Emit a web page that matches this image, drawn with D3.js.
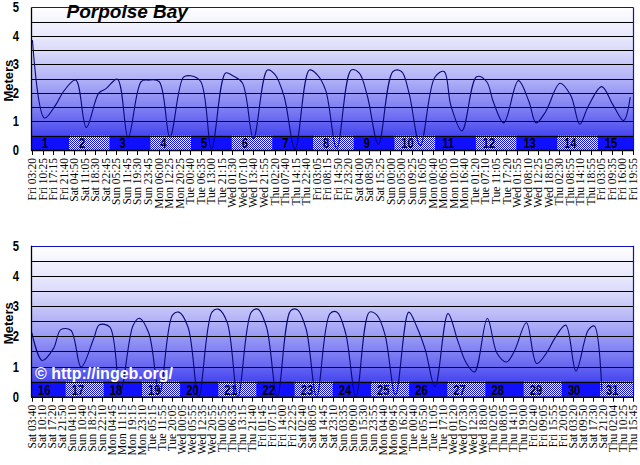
<!DOCTYPE html>
<html><head><meta charset="utf-8">
<script src="https://cdn.jsdelivr.net/npm/d3@7"></script>
<style>html,body{margin:0;padding:0;background:#fff;} svg{display:block;}</style>
</head><body><svg id="c" width="640" height="465"></svg>
<script>
// ---------- DATA ----------
const title = "Porpoise Bay";
const yTicks = [0, 1, 2, 3, 4, 5];
const gridValues = [0.5, 1, 1.5, 2, 2.5, 3, 3.5, 4, 4.5];

// Panel 1 : days 1-15
const topDays = [1, 15];
const topWeekday = ["Fri","Fri","Fri","Fri","Sat","Sat","Sat","Sat","Sun","Sun","Sun","Sun","Mon","Mon","Mon","Tue","Tue","Tue","Tue","Wed","Wed","Wed","Wed","Thu","Thu","Thu","Thu","Fri","Fri","Fri","Fri","Sat","Sat","Sat","Sun","Sun","Sun","Sun","Mon","Mon","Mon","Mon","Tue","Tue","Tue","Tue","Wed","Wed","Wed","Wed","Thu","Thu","Thu","Thu","Fri","Fri","Fri","Fri"];
const topTime = ["03:20","10:25","17:15","21:40","04:50","11:05","18:30","22:45","05:25","11:45","19:30","23:45","06:00","12:25","20:25","00:40","06:35","13:00","21:15","01:30","07:10","13:40","21:55","02:20","07:40","14:15","22:40","03:05","08:15","14:50","23:20","04:00","08:50","15:25","00:00","05:00","09:25","16:05","00:40","06:05","10:10","16:40","01:20","07:10","11:05","17:20","01:55","08:10","12:25","18:05","02:30","08:55","14:10","18:55","03:05","09:35","16:00","19:55"];
const topDate = [1,1,1,1,2,2,2,2,3,3,3,3,4,4,4,5,5,5,5,6,6,6,6,7,7,7,7,8,8,8,8,9,9,9,10,10,10,10,11,11,11,11,12,12,12,12,13,13,13,13,14,14,14,14,15,15,15,15];
const topHeight = [3.85,1.12,1.6,2.05,2.45,0.79,2.0,2.15,2.48,0.43,2.4,2.45,2.4,0.45,2.55,2.6,2.4,0.05,2.7,2.6,2.35,0.4,2.8,2.65,1.9,0.03,2.8,2.65,2.1,0.05,2.8,2.7,1.9,0.2,2.75,2.75,2.0,0.15,2.55,2.75,1.55,0.67,2.57,2.4,1.7,0.95,2.43,1.7,0.95,1.35,2.34,1.9,0.9,1.5,2.22,1.6,1.03,1.85];

// Panel 2 : days 16-31
const bottomDays = [16, 31];
const bottomWeekday = ["Sat","Sat","Sat","Sat","Sun","Sun","Sun","Sun","Mon","Mon","Mon","Mon","Tue","Tue","Tue","Wed","Wed","Wed","Wed","Thu","Thu","Thu","Thu","Fri","Fri","Fri","Fri","Sat","Sat","Sat","Sat","Sun","Sun","Sun","Sun","Mon","Mon","Mon","Tue","Tue","Tue","Tue","Wed","Wed","Wed","Wed","Thu","Thu","Thu","Thu","Fri","Fri","Fri","Fri","Sat","Sat","Sat","Sat","Thu","Thu","Thu"];
const bottomTime = ["03:40","10:10","17:20","21:50","04:10","10:40","18:25","22:10","04:45","11:15","19:15","23:10","05:15","11:55","20:05","00:05","05:55","12:35","20:55","00:55","06:35","13:15","21:40","01:45","07:15","14:00","22:25","02:40","08:05","14:45","23:10","03:35","09:00","15:30","23:55","04:40","09:45","16:20","00:40","05:50","11:05","17:10","01:20","07:30","12:30","18:00","02:05","08:05","14:10","19:00","02:40","09:05","15:55","20:05","03:20","09:50","17:30","21:20","02:04","10:25","15:45"];
const bottomDate = [16,16,16,16,17,17,17,17,18,18,18,18,19,19,19,20,20,20,20,21,21,21,21,22,22,22,22,23,23,23,23,24,24,24,24,25,25,25,26,26,26,26,27,27,27,27,28,28,28,28,29,29,29,29,30,30,30,30,31,31,31];
const bottomHeight = [2.12,1.2,1.6,2.22,2.2,0.98,1.9,2.38,2.3,0.15,2.35,2.6,2.1,0.1,2.7,2.8,2.3,0.0,2.8,2.9,2.45,0.0,2.8,2.9,2.3,0.0,2.85,2.88,2.25,0.0,2.75,2.8,2.1,0.0,2.8,2.7,2.05,0.05,2.8,2.3,1.55,0.33,2.75,1.85,1.15,0.82,2.6,1.45,1.15,1.5,2.45,1.1,1.5,1.9,2.37,0.85,2.2,2.34,0.2,null,null];

const watermark = "\u00a9 http://ingeb.org/";

// ---------- DRAWING ----------
const svg = d3.select("#c");
const defs = svg.append("defs");
const grad = defs.append("linearGradient").attr("id","bg").attr("x1",0).attr("y1",0).attr("x2",0).attr("y2",1);
[[0,"#ffffff"],[0.3,"#dcdcfb"],[0.5,"#b2b2f7"],[0.75,"#7474f2"],[0.9,"#4646f0"],[1,"#2020f2"]]
  .forEach(s => grad.append("stop").attr("offset",s[0]).attr("stop-color",s[1]));
const pat = defs.append("pattern").attr("id","chk").attr("width",2).attr("height",2).attr("patternUnits","userSpaceOnUse");
pat.append("rect").attr("width",2).attr("height",2).attr("fill","#ffffff");
pat.append("rect").attr("x",0).attr("y",0).attr("width",1).attr("height",1).attr("fill","#1010ff");
pat.append("rect").attr("x",1).attr("y",1).attr("width",1).attr("height",1).attr("fill","#1010ff");

function toT(date, time) {
  const [h, m] = time.split(":").map(Number);
  return date + h / 24 + m / 1440;
}

function drawPanel(cfg, idx) {
  const left = 32, right = 633;
  const g = svg.append("g");
  const y = d3.scaleLinear().domain([0, 5]).range([cfg.bottom, cfg.top]);
  const nd = cfg.days[1] - cfg.days[0] + 1;
  const x = d3.scaleLinear().domain([cfg.days[0], cfg.days[0] + nd + 1]).range([cfg.x0, cfg.x0 + (nd + 1) * cfg.dayW]);
  const xl = d3.scalePoint().domain(d3.range(cfg.weekday.length)).range([left, right]);

  // background gradient
  g.append("rect").attr("x", left).attr("y", cfg.top).attr("width", right - left).attr("height", cfg.bottom - cfg.top).attr("fill", "url(#bg)");

  // day bands
  const days = d3.range(cfg.days[0], cfg.days[1] + 1);
  const bandX0 = d => Math.max(x(d), left), bandX1 = d => Math.min(x(d + 1), right);
  g.selectAll(".band").data(days).join("rect")
    .attr("x", d => bandX0(d)).attr("width", d => bandX1(d) - bandX0(d))
    .attr("y", y(0.5)).attr("height", y(0) - y(0.5))
    .attr("fill", (d, i) => i % 2 ? "url(#chk)" : "#1010ff");

  // grid lines
  g.selectAll(".grid").data(gridValues).join("line")
    .attr("x1", left).attr("x2", right)
    .attr("y1", d => Math.round(y(d)) + 0.5).attr("y2", d => Math.round(y(d)) + 0.5)
    .attr("stroke", "#000").attr("stroke-width", 1);

  // curve
  const clipId = "clip" + idx;
  defs.append("clipPath").attr("id", clipId).append("rect")
    .attr("x", left).attr("y", cfg.top).attr("width", right - left).attr("height", cfg.bottom - cfg.top);
  const pts = cfg.height.map((h, i) => ({ t: toT(cfg.date[i], cfg.time[i]), h }));
  const line = d3.line().defined(d => d.h != null).x(d => x(d.t) - 1.5).y(d => y(d.h)).curve(d3.curveCatmullRom.alpha(0.5));
  g.append("path").attr("d", line(pts)).attr("fill", "none").attr("stroke", "#0a0a78").attr("stroke-width", 1.1).attr("clip-path", `url(#${clipId})`);

  // day numbers
  g.selectAll(".dnum").data(days).join("text")
    .attr("transform", d => `translate(${Math.max(x(d), left) + 0.32 * cfg.dayW},${y(0) - 2}) scale(0.8,1)`)
    .attr("text-anchor", "middle").attr("font-family", "Liberation Sans, Arial, sans-serif")
    .attr("font-weight", "bold").attr("font-size", 14).attr("fill", "#000").text(d => d);

  // frame
  g.append("line").attr("x1", left).attr("x2", right).attr("y1", Math.round(cfg.top) + 0.5).attr("y2", Math.round(cfg.top) + 0.5).attr("stroke", "#1010c8").attr("stroke-width", 1.2);
  g.append("line").attr("x1", right + 0.5).attr("x2", right + 0.5).attr("y1", cfg.top).attr("y2", cfg.bottom).attr("stroke", "#1010c8").attr("stroke-width", 1.2);
  g.append("line").attr("x1", left - 0.5).attr("x2", left - 0.5).attr("y1", cfg.top).attr("y2", cfg.bottom + 0.5).attr("stroke", "#000").attr("stroke-width", 1.3);
  g.append("line").attr("x1", left - 1).attr("x2", right + 1).attr("y1", cfg.bottom + 0.5).attr("y2", cfg.bottom + 0.5).attr("stroke", "#000").attr("stroke-width", 1.6);

  // x ticks and labels
  const lab = cfg.weekday.map((w, i) => w + " " + cfg.time[i]);
  g.selectAll(".xt").data(lab).join("line")
    .attr("x1", (d, i) => Math.round(xl(i)) + 0.5).attr("x2", (d, i) => Math.round(xl(i)) + 0.5)
    .attr("y1", cfg.bottom).attr("y2", cfg.bottom + 5).attr("stroke", "#000");
  g.selectAll(".xl").data(lab).join("text")
    .attr("transform", (d, i) => `translate(${xl(i)},${cfg.bottom + 8}) rotate(-90)`)
    .attr("dy", "0.35em").attr("text-anchor", "end")
    .attr("font-family", "Liberation Serif, Times New Roman, serif").attr("font-size", 11.5).attr("fill", "#000")
    .text(d => d);

  // y labels
  g.selectAll(".yl").data(yTicks).join("text")
    .attr("transform", d => `translate(19,${y(d) + 5}) scale(0.8,1)`)
    .attr("text-anchor", "end").attr("font-family", "Liberation Sans, Arial, sans-serif")
    .attr("font-weight", "bold").attr("font-size", 14).attr("fill", "#000").text(d => d);
  g.append("text").attr("transform", `translate(12.5,${(cfg.top + cfg.bottom) / 2 + 2}) rotate(-90)`)
    .attr("text-anchor", "middle").attr("font-family", "Liberation Sans, Arial, sans-serif")
    .attr("font-weight", "bold").attr("font-size", 13).attr("fill", "#000").text("Meters");

  if (cfg.title) {
    g.append("text").attr("x", 66.5).attr("y", 17.5).attr("font-family", "Liberation Sans, Arial, sans-serif")
      .attr("font-weight", "bold").attr("font-style", "italic").attr("font-size", 19).attr("fill", "#000").text(cfg.title);
  }
  if (cfg.mark) {
    g.append("text").attr("x", 35).attr("y", 378.5).attr("font-family", "Liberation Sans, Arial, sans-serif")
      .attr("font-weight", "bold").attr("font-size", 16).attr("fill", "#fff").text(cfg.mark);
  }
}

drawPanel({ days: topDays, weekday: topWeekday, time: topTime, date: topDate, height: topHeight,
  top: 7.3, bottom: 150, x0: 28.3, dayW: 40.69, title: title }, 0);
drawPanel({ days: bottomDays, weekday: bottomWeekday, time: bottomTime, date: bottomDate, height: bottomHeight,
  top: 245.7, bottom: 396.7, x0: 27.5, dayW: 38.17, mark: watermark }, 1);
</script></body></html>
